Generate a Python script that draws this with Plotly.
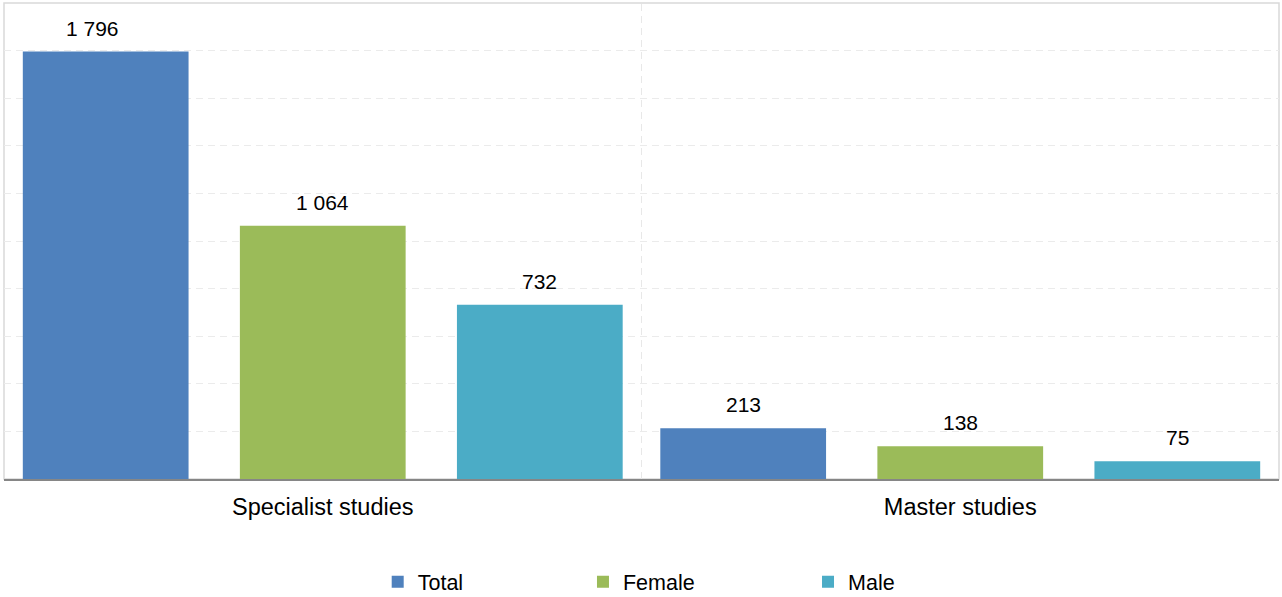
import plotly.graph_objects as go

categories = ["Specialist studies", "Master studies"]
series_names = ["Total", "Female", "Male"]
total = [1796, 213]
female = [1064, 138]
male = [732, 75]
colors = ["#4F81BD", "#9BBB59", "#4BACC6"]

values = [total, female, male]
bar_width = 0.26
centers = [-0.3405, 0.0, 0.3405]
legend_x = [0.2931, 0.4541, 0.6306]
label_xshift = [[-13, 0], [0, 0], [0, 0]]

FONT = "Liberation Sans, Arial, sans-serif"

fig = go.Figure()
legend_ids = ["legend", "legend2", "legend3"]
for i, (name, vals, col) in enumerate(zip(series_names, values, colors)):
    fig.add_trace(go.Bar(
        x=categories, y=vals, name=name,
        marker=dict(color=col, line=dict(width=0)),
        width=bar_width, offset=centers[i] - bar_width / 2,
        legend=legend_ids[i],
        hoverinfo="skip",
    ))

annotations = []
for i, vals in enumerate(values):
    for j, v in enumerate(vals):
        annotations.append(dict(
            x=j + centers[i], y=v, xref="x", yref="y",
            text=f"{v:,}".replace(",", " "),
            showarrow=False, yanchor="bottom", yshift=10,
            xshift=label_xshift[i][j],
            font=dict(family=FONT, size=21, color="#000000"),
        ))

shapes = [
    dict(type="rect", xref="paper", yref="paper", x0=0, x1=1, y0=0, y1=1,
         line=dict(color="#d9d9d9", width=1.5), layer="below"),
    dict(type="line", xref="x", yref="paper", x0=0.5, x1=0.5, y0=0, y1=1,
         line=dict(color="#e8e8e8", width=1, dash="7px,5px"), layer="below"),
]

leg_common = dict(orientation="h", yanchor="middle", xanchor="left",
                  font=dict(family=FONT, size=21.5, color="#000000"),
                  bgcolor="rgba(0,0,0,0)", borderwidth=0)

fig.update_layout(
    width=1282, height=597,
    margin=dict(l=4, r=3, t=3, b=118, autoexpand=False),
    paper_bgcolor="white", plot_bgcolor="white",
    barmode="overlay",
    showlegend=True,
    legend=dict(x=legend_x[0], y=-0.216, **leg_common),
    legend2=dict(x=legend_x[1], y=-0.216, **leg_common),
    legend3=dict(x=legend_x[2], y=-0.216, **leg_common),
    xaxis=dict(
        type="category", range=[-0.5, 1.5],
        showline=True, linecolor="#868686", linewidth=2,
        showgrid=False, ticks="", ticklabelstandoff=6,
        tickfont=dict(family=FONT, size=23.5, color="#000000"),
    ),
    yaxis=dict(
        range=[0, 2000], dtick=200, showticklabels=False,
        showgrid=True, gridcolor="#ebebeb", gridwidth=1, griddash="7px,5px",
        zeroline=False, showline=False,
    ),
    annotations=annotations,
    shapes=shapes,
    font=dict(family=FONT),
)

fig.write_html("out.html", config={"displayModeBar": False},
               post_script="document.body.style.margin='0';document.body.style.overflow='hidden';")
